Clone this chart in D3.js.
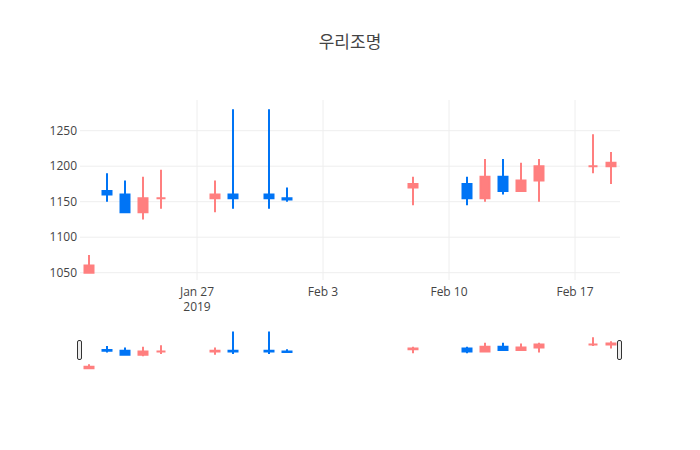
<!DOCTYPE html>
<html>
<head>
<meta charset="utf-8">
<script src="https://cdn.jsdelivr.net/npm/d3@7"></script>
<style>
  body { margin: 0; background: #fff; }
  text { font-family: "Open Sans", "Noto Sans CJK KR", sans-serif; fill: #444; }
</style>
</head>
<body>
<div id="chart"></div>
<script>
var svgWidth = 700
var svgHeight = 450

// 거래일, 시가/고가/저가/종가
var dates = ["2019-01-21","2019-01-22","2019-01-23","2019-01-24","2019-01-25","2019-01-28","2019-01-29","2019-01-31",
             "2019-02-01","2019-02-08","2019-02-11","2019-02-12","2019-02-13","2019-02-14","2019-02-15","2019-02-18","2019-02-19"]
var open  = [1050,1165,1160,1135,1155,1155,1160,1160,1155,1170,1175,1155,1185,1165,1180,1200,1200]
var high  = [1075,1190,1180,1185,1195,1180,1280,1280,1170,1185,1185,1210,1210,1205,1210,1245,1220]
var low   = [1050,1150,1135,1125,1140,1135,1140,1140,1150,1145,1145,1150,1160,1165,1150,1190,1175]
var close = [1060,1160,1135,1155,1155,1160,1155,1155,1153,1175,1155,1185,1165,1180,1200,1200,1205]
var yTicks = [1050,1100,1150,1200,1250]
var xTicks = ["2019-01-27","2019-02-03","2019-02-10","2019-02-17"]
var xTickLabels = ["Jan 27","Feb 3","Feb 10","Feb 17"]

var upColor = "#ff7f7f"
var downColor = "#0074f5"

var parse = d3.timeParse("%Y-%m-%d")
var data = dates.map(function(d,i){
  return { date: parse(d), o: open[i], h: high[i], l: low[i], c: close[i] }
})

var plotLeft = 80, plotRight = 620, plotTop = 100, plotBottom = 280
var sliderTop = 329.5, sliderBottom = 370

var svg = d3.select("#chart").append("svg").attr("width",svgWidth).attr("height",svgHeight)

var x = d3.scaleTime()
          .domain([d3.timeHour.offset(parse("2019-01-20"),12), d3.timeHour.offset(parse("2019-02-19"),12)])
          .range([plotLeft,plotRight])
var y = d3.scaleLinear().domain([1039.7,1293.2]).range([plotBottom,plotTop])
var ySlider = d3.scaleLinear().domain([1039.7,1293.2]).range([sliderBottom,sliderTop])

// 그리드
svg.append("g").selectAll("line")
   .data(yTicks).enter().append("line")
   .attr("x1",plotLeft).attr("x2",plotRight)
   .attr("y1",function(d){ return y(d) }).attr("y2",function(d){ return y(d) })
   .style("stroke","#eee").style("stroke-width",1)
svg.append("g").selectAll("line")
   .data(xTicks).enter().append("line")
   .attr("x1",function(d){ return x(parse(d)) }).attr("x2",function(d){ return x(parse(d)) })
   .attr("y1",plotTop).attr("y2",plotBottom)
   .style("stroke","#eee").style("stroke-width",1)

// 축 라벨
svg.append("g").selectAll("text")
   .data(yTicks).enter().append("text")
   .attr("x",plotLeft-3).attr("y",function(d){ return y(d) })
   .attr("dy","0.35em").attr("text-anchor","end")
   .style("font-size","12px")
   .text(function(d){ return d })
svg.append("g").selectAll("text")
   .data(xTicks).enter().append("text")
   .attr("x",function(d){ return x(parse(d)) }).attr("y",296)
   .attr("text-anchor","middle")
   .style("font-size","12px")
   .text(function(d,i){ return xTickLabels[i] })
svg.append("text")
   .attr("x",x(parse(xTicks[0]))).attr("y",311)
   .attr("text-anchor","middle")
   .style("font-size","12px")
   .text("2019")

// 캔들 경로
var half = (x(parse("2019-01-22")) - x(parse("2019-01-21"))) * 0.25
function candle(d, yy){
  var cx = x(d.date)
  var hi = Math.max(d.o,d.c), lo = Math.min(d.o,d.c)
  return "M"+(cx-half)+","+yy(d.o)+"H"+(cx+half)+"V"+yy(d.c)+"H"+(cx-half)+"Z"
       + "M"+cx+","+yy(hi)+"V"+yy(d.h)
       + "M"+cx+","+yy(lo)+"V"+yy(d.l)
}
function colorOf(d){ return d.c >= d.o ? upColor : downColor }

svg.append("g").selectAll("path")
   .data(data).enter().append("path")
   .attr("d",function(d){ return candle(d,y) })
   .style("fill",colorOf).style("stroke",colorOf)
   .style("stroke-width",2)

// 레인지 슬라이더
svg.append("g").selectAll("path")
   .data(data).enter().append("path")
   .attr("d",function(d){ return candle(d,ySlider) })
   .style("fill",colorOf).style("stroke",colorOf)
   .style("stroke-width",2)

svg.append("g").selectAll("rect")
   .data([plotLeft,plotRight]).enter().append("rect")
   .attr("x",function(d){ return d-2.5 }).attr("y",340.5)
   .attr("width",4).attr("height",19).attr("rx",1.5)
   .style("fill","#eee").style("stroke","#333").style("stroke-width",1)

// 제목
svg.append("text")
   .attr("x",svgWidth/2).attr("y",48)
   .attr("text-anchor","middle")
   .style("font-size","17px")
   .text("우리조명")
</script>
</body>
</html>
